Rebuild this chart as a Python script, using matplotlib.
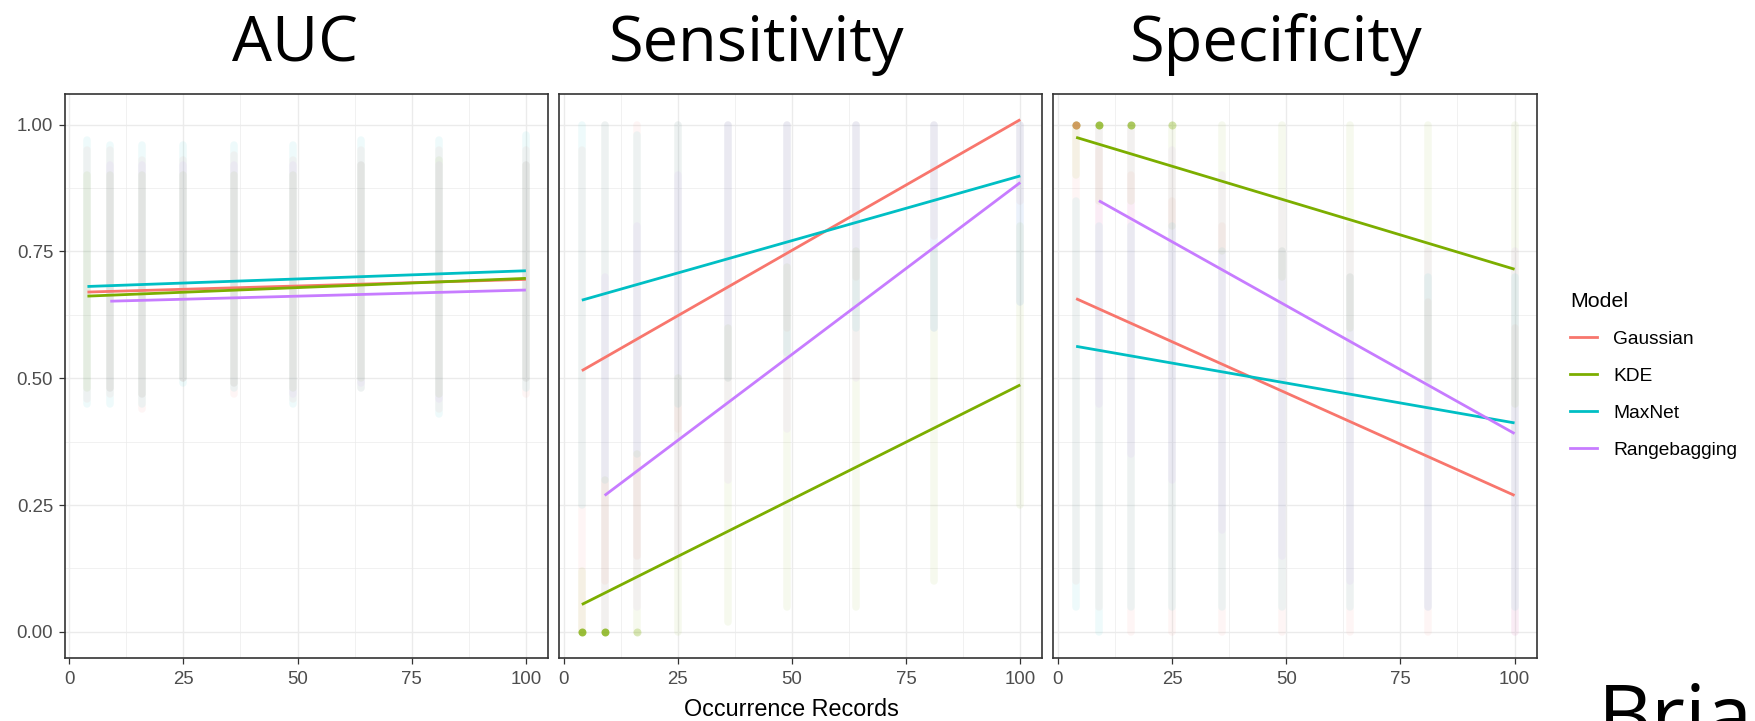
import numpy as np
import matplotlib
matplotlib.use("Agg")
import matplotlib.pyplot as plt
from matplotlib.lines import Line2D

# ---- data -------------------------------------------------------------
MODELS = ["Gaussian", "KDE", "MaxNet", "Rangebagging"]
MODEL_COLORS = ["#F8766D", "#7CAE00", "#00BFC4", "#C77CFF"]
PANEL_TITLES = ["AUC", "Sensitivity", "Specificity"]
X_LABEL = "Occurrence Records"
RECORDS = [4, 9, 16, 25, 36, 49, 64, 81, 100]
X_TICKS = [0, 25, 50, 75, 100]
Y_TICKS = [0.0, 0.25, 0.50, 0.75, 1.00]
NAN = float("nan")

# fitted trend per model: first x, value at first x, value at x = 100
TREND_X0 = [4, 4, 4, 9]
TREND_X1 = 100
AUC_TREND_START = [0.670, 0.662, 0.681, 0.652]
AUC_TREND_END = [0.695, 0.697, 0.712, 0.674]
SENS_TREND_START = [0.515, 0.054, 0.654, 0.269]
SENS_TREND_END = [1.010, 0.487, 0.899, 0.886]
SPEC_TREND_START = [0.657, 0.975, 0.563, 0.850]
SPEC_TREND_END = [0.269, 0.715, 0.412, 0.391]

# spread of replicate scores at each record count (rows follow MODELS)
AUC_LOW = [
    [0.46, 0.47, 0.44, 0.50, 0.47, 0.46, 0.48, 0.44, 0.47],
    [0.48, 0.48, 0.47, 0.50, 0.49, 0.48, 0.50, 0.47, 0.50],
    [0.45, 0.45, 0.45, 0.49, 0.48, 0.45, 0.48, 0.43, 0.48],
    [NAN, 0.48, 0.47, 0.50, 0.49, 0.47, 0.49, 0.46, 0.50],
]
AUC_HIGH = [
    [0.95, 0.95, 0.93, 0.93, 0.94, 0.93, 0.95, 0.95, 0.95],
    [0.90, 0.90, 0.90, 0.90, 0.90, 0.90, 0.92, 0.93, 0.92],
    [0.97, 0.96, 0.96, 0.96, 0.96, 0.96, 0.97, 0.97, 0.98],
    [NAN, 0.92, 0.92, 0.92, 0.92, 0.92, 0.92, 0.92, 0.92],
]
SENS_LOW = [
    [0.00, 0.10, 0.15, 0.40, 0.50, 0.60, 0.70, 0.78, 0.85],
    [0.00, 0.00, 0.00, 0.00, 0.02, 0.05, 0.05, 0.10, 0.25],
    [0.25, 0.30, 0.35, 0.45, 0.50, 0.55, 0.60, 0.60, 0.65],
    [NAN, 0.00, 0.05, 0.15, 0.30, 0.40, 0.50, 0.60, 0.65],
]
SENS_HIGH = [
    [0.95, 1.00, 1.00, 1.00, 1.00, 1.00, 1.00, 1.00, 1.00],
    [0.12, 0.30, 0.35, 0.50, 0.60, 0.72, 0.75, 0.75, 0.80],
    [1.00, 1.00, 0.98, 1.00, 1.00, 1.00, 1.00, 1.00, 1.00],
    [NAN, 0.70, 0.80, 0.90, 1.00, 1.00, 1.00, 1.00, 1.00],
]
SPEC_LOW = [
    [0.10, 0.05, 0.00, 0.00, 0.00, 0.00, 0.00, 0.00, 0.00],
    [0.90, 0.85, 0.85, 0.80, 0.75, 0.70, 0.60, 0.50, 0.45],
    [0.05, 0.00, 0.05, 0.05, 0.05, 0.05, 0.05, 0.05, 0.05],
    [NAN, 0.45, 0.35, 0.30, 0.20, 0.15, 0.10, 0.05, 0.00],
]
SPEC_HIGH = [
    [1.00, 0.95, 0.90, 0.85, 0.80, 0.75, 0.70, 0.65, 0.60],
    [1.00, 1.00, 1.00, 1.00, 1.00, 1.00, 1.00, 1.00, 1.00],
    [0.85, 0.80, 0.80, 0.80, 0.75, 0.75, 0.70, 0.70, 0.70],
    [NAN, 1.00, 1.00, 0.95, 0.90, 0.85, 0.80, 0.75, 0.75],
]

# stacked replicate scores sitting exactly on 0 (sensitivity) / 1 (specificity)
SENS_KDE_ZERO_X = [4, 9, 16]
SENS_KDE_ZERO_ALPHA = [0.75, 0.75, 0.25]
SPEC_KDE_ONE_X = [4, 9, 16, 25]
SPEC_KDE_ONE_ALPHA = [0.65, 0.70, 0.60, 0.30]
SPEC_GAUSS_ONE_X = [4]
SPEC_GAUSS_ONE_ALPHA = [0.5]

SIDE_TEXT = "Brian"

PANELS = [
    (AUC_TREND_START, AUC_TREND_END, AUC_LOW, AUC_HIGH),
    (SENS_TREND_START, SENS_TREND_END, SENS_LOW, SENS_HIGH),
    (SPEC_TREND_START, SPEC_TREND_END, SPEC_LOW, SPEC_HIGH),
]

# ---- figure -----------------------------------------------------------
W, H, DPI = 1755, 721, 100
fig = plt.figure(figsize=(W / DPI, H / DPI), dpi=DPI)
fig.patch.set_facecolor("white")

TICK_FONT = "Liberation Sans"
TITLE_FONT = "Open Sans"
GRID = "#EBEBEB"
FRAME = "#333333"
TICK_TEXT = "#4D4D4D"

panel_left_px = [64.6, 559.0, 1053.3]
panel_w_px = 483.2
panel_top_px, panel_bot_px = 94.0, 657.5

# shared y-range: data extent plus 5% padding each side
y_all = [0.0] + AUC_TREND_END + SENS_TREND_END + SPEC_TREND_END + [1.0]
y_lo, y_hi = min(y_all), max(y_all)
y_pad = 0.05 * (y_hi - y_lo)
x_pad = 0.05 * (max(RECORDS) - min(RECORDS))

px_per_pt = DPI / 72.0
band_lw = 7.5 / px_per_pt

axes = []
for i, (t0, t1, lo, hi) in enumerate(PANELS):
    ax = fig.add_axes([panel_left_px[i] / W, 1 - panel_bot_px / H,
                       panel_w_px / W, (panel_bot_px - panel_top_px) / H])
    axes.append(ax)
    ax.set_xlim(min(RECORDS) - x_pad - 0.2, max(RECORDS) + x_pad)
    ax.set_ylim(y_lo - y_pad, y_hi + y_pad)

    ax.set_xticks(X_TICKS)
    ax.set_xticks([12.5, 37.5, 62.5, 87.5], minor=True)
    ax.set_yticks(Y_TICKS)
    ax.set_yticks([0.125, 0.375, 0.625, 0.875], minor=True)
    ax.grid(which="major", color=GRID, linewidth=1.0)
    ax.grid(which="minor", color=GRID, linewidth=0.5)
    ax.set_axisbelow(True)

    for s in ax.spines.values():
        s.set_color(FRAME)
        s.set_linewidth(1.2)

    ax.tick_params(axis="x", which="major", length=4.2, width=0.9,
                   color=FRAME, labelcolor=TICK_TEXT, labelsize=13.4, pad=5.5)
    ax.tick_params(which="minor", length=0)
    if i == 0:
        ax.tick_params(axis="y", which="major", length=4.2, width=0.9,
                       color=FRAME, labelcolor=TICK_TEXT, labelsize=13.4, pad=4)
        ax.set_yticklabels([f"{v:.2f}" for v in Y_TICKS])
    else:
        ax.tick_params(axis="y", which="major", length=0, labelleft=False)
    for lab in ax.get_xticklabels() + ax.get_yticklabels():
        lab.set_fontfamily(TICK_FONT)

    # replicate spread at each record count
    for m, col in enumerate(MODEL_COLORS):
        lc = ax.vlines(RECORDS, lo[m], hi[m], colors=col, linewidth=band_lw,
                       alpha=0.065, zorder=1)
        lc.set_capstyle("round")

    # fitted trends
    for m, col in enumerate(MODEL_COLORS):
        ax.plot([TREND_X0[m], TREND_X1], [t0[m], t1[m]], color=col,
                linewidth=2.0, solid_capstyle="butt", zorder=3)

dot_s = (8.0 / px_per_pt) ** 2
for x, a in zip(SENS_KDE_ZERO_X, SENS_KDE_ZERO_ALPHA):
    axes[1].scatter([x], [0.0], s=dot_s, color=MODEL_COLORS[1], alpha=a,
                    linewidths=0, zorder=2)
for x, a in zip(SPEC_KDE_ONE_X, SPEC_KDE_ONE_ALPHA):
    axes[2].scatter([x], [1.0], s=dot_s, color=MODEL_COLORS[1], alpha=a,
                    linewidths=0, zorder=2)
for x, a in zip(SPEC_GAUSS_ONE_X, SPEC_GAUSS_ONE_ALPHA):
    axes[2].scatter([x], [1.0], s=dot_s, color=MODEL_COLORS[0], alpha=a,
                    linewidths=0, zorder=2)

# shared x-axis title
fig.text(791 / W, 1 - 709 / H, X_LABEL, ha="center", va="center",
         fontsize=16.8, color="black", family=TICK_FONT)

# legend
handles = [Line2D([0], [0], color=c, linewidth=2.0) for c in MODEL_COLORS]
leg = fig.legend(handles, MODELS, title="Model", loc="upper left",
                 bbox_to_anchor=(1570 / W, 1 - 292 / H), frameon=False,
                 prop={"family": TICK_FONT, "size": 13.8},
                 title_fontproperties={"family": TICK_FONT, "size": 15.4},
                 handlelength=1.4, handletextpad=0.85, labelspacing=1.02,
                 borderaxespad=0, borderpad=0, alignment="left")

# panel headings
title_x_px = [295, 757, 1276]
for tx, t in zip(title_x_px, PANEL_TITLES):
    fig.text(tx / W, 1 - 61 / H, t, ha="center", va="baseline",
             fontsize=45.5, family=TITLE_FONT, color="black")

fig.text(1598 / W, 1 - 744 / H, SIDE_TEXT, ha="left", va="baseline",
         fontsize=60, family=TITLE_FONT, color="black")

fig.savefig("out.png", dpi=DPI, facecolor="white")
